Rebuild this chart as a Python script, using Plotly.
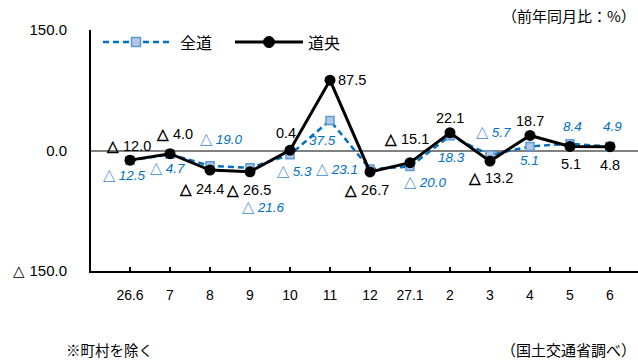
import plotly.graph_objects as go

# 前年同月比（%）
months = ["26.6", "7", "8", "9", "10", "11", "12", "27.1", "2", "3", "4", "5", "6"]
zendo = [-12.5, -4.7, -19.0, -21.6, -5.3, 37.5, -23.1, -20.0, 18.3, -5.7, 5.1, 8.4, 4.9]
doou = [-12.0, -4.0, -24.4, -26.5, 0.4, 87.5, -26.7, -15.1, 22.1, -13.2, 18.7, 5.1, 4.8]

# label offsets in px (x, y) relative to each point
zendo_off = [(-6, -14), (-3, -13), (11, 27), (13, -39), (4, -16), (-8, -20), (-33, 1),
             (15, -15), (1, -22), (3, 24), (-1, -14), (2, 17), (2, 20)]
doou_off = [(-2, 14), (4, 20), (-9, -19), (-2, -18), (-4, 17), (22, 0), (-4, -18),
            (-4, 24), (0, 15), (0, -17), (0, 14), (1, -18), (0, -18)]

BLUE = "#0070C0"
NUM_FONT = "Liberation Sans"
JP_FONT = "Noto Sans CJK JP"

W, H = 638, 360
ML, MR, MT, MB = 91, 0, 30, 89
PW, PH = W - ML - MR, H - MT - MB


def px(x):
    return (x - ML) / PW


def py(y):
    return (H - MB - y) / PH


def fmt_blue(v):
    num = f"<i>{abs(v):.1f}</i>"
    if v < 0:
        return f'<span style="color:#5B9BD5;font-size:16px">△</span> {num}'
    return num


def fmt_black(v):
    return f"<b>△</b> {abs(v):.1f}" if v < 0 else f"{v:.1f}"


fig = go.Figure()
fig.add_trace(go.Scatter(
    x=months, y=zendo, name="全道", mode="lines+markers",
    line=dict(color=BLUE, width=2.5, dash="6px,4px"),
    marker=dict(symbol="square", size=8, color="#B4C7E7",
                line=dict(color="#5B9BD5", width=1.5)),
))
fig.add_trace(go.Scatter(
    x=months, y=doou, name="道央", mode="lines+markers",
    line=dict(color="black", width=3),
    marker=dict(symbol="circle", size=11, color="black"),
))

# value labels (x given as category index)
for i, (v, (dx, dy)) in enumerate(zip(zendo, zendo_off)):
    fig.add_annotation(x=i, y=v, text=fmt_blue(v), showarrow=False,
                       xshift=dx, yshift=dy,
                       font=dict(family=NUM_FONT, size=13.5, color=BLUE))
for i, (v, (dx, dy)) in enumerate(zip(doou, doou_off)):
    fig.add_annotation(x=i, y=v, text=fmt_black(v), showarrow=False,
                       xshift=dx, yshift=dy,
                       font=dict(family=NUM_FONT, size=14.5, color="black"))

# legend key drawn as shapes
LY = py(42)
fig.add_shape(type="line", xref="paper", yref="paper", x0=px(103), x1=px(170), y0=LY, y1=LY,
              line=dict(color=BLUE, width=2.5, dash="6px,4px"))
fig.add_shape(type="rect", xref="paper", yref="paper",
              x0=px(131.5), x1=px(140.5), y0=py(46.5), y1=py(37.5),
              fillcolor="#B4C7E7", line=dict(color="#5B9BD5", width=1.5))
fig.add_shape(type="line", xref="paper", yref="paper", x0=px(235), x1=px(303), y0=LY, y1=LY,
              line=dict(color="black", width=3))
fig.add_shape(type="circle", xref="paper", yref="paper",
              x0=px(263.5), x1=px(274.5), y0=py(47.5), y1=py(36.5),
              fillcolor="black", line=dict(color="black", width=1))
for name, xl in (("全道", 178), ("道央", 306)):
    fig.add_annotation(xref="paper", yref="paper", x=px(xl), y=LY, xanchor="left",
                       yanchor="middle", showarrow=False, text=name,
                       font=dict(family=JP_FONT, size=16, color="black"))

fig.add_annotation(xref="paper", yref="paper", x=1.0, y=py(16),
                   xanchor="right", yanchor="middle", showarrow=False,
                   text="（前年同月比：%）",
                   font=dict(family=JP_FONT, size=15, color="black"))
fig.add_annotation(xref="paper", yref="paper", x=px(64), y=py(349),
                   xanchor="left", yanchor="middle", showarrow=False,
                   text="※町村を除く",
                   font=dict(family=JP_FONT, size=14.5, color="black"))
fig.add_annotation(xref="paper", yref="paper", x=1.0, y=py(349),
                   xanchor="right", yanchor="middle", showarrow=False,
                   text="（国土交通省調べ）",
                   font=dict(family=JP_FONT, size=15, color="black"))

fig.update_layout(
    width=W, height=H,
    margin=dict(l=ML, r=MR, t=MT, b=MB),
    paper_bgcolor="white", plot_bgcolor="white",
    showlegend=False,
    xaxis=dict(
        type="category", range=[-0.975, 12.7],
        showline=True, linecolor="black", linewidth=2,
        ticks="inside", ticklen=4, tickcolor="black", tickwidth=1.5,
        showgrid=False, zeroline=False,
        tickfont=dict(family=NUM_FONT, size=14, color="black"),
        ticklabelstandoff=10,
    ),
    yaxis=dict(
        range=[-150, 150],
        tickvals=[-150, 0, 150],
        ticktext=["△ 150.0", "0.0", "150.0"],
        showline=True, linecolor="black", linewidth=2,
        ticks="", showgrid=False,
        zeroline=True, zerolinecolor="#808080", zerolinewidth=1.5,
        tickfont=dict(family=NUM_FONT, size=15, color="black"),
        ticklabelstandoff=19,
    ),
)

fig.write_html("out.html")
